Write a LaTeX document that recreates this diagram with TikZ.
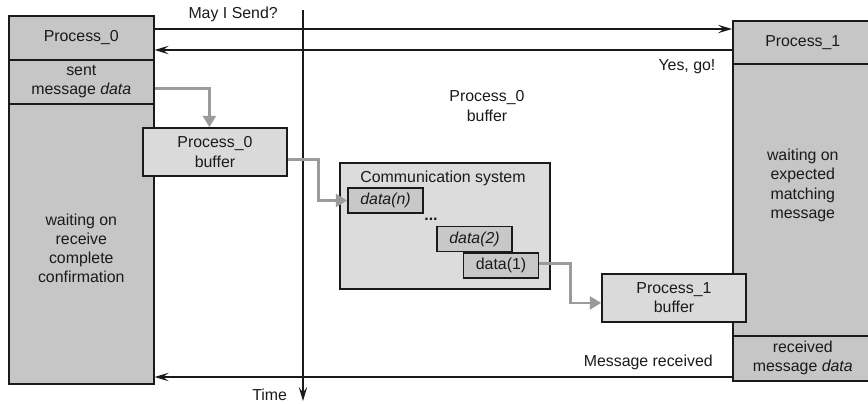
\documentclass[tikz,border=0pt]{standalone}
\usepackage{fontspec}
\setmainfont{Liberation Sans}
\usetikzlibrary{arrows.meta,positioning,calc}
\definecolor{ink}{HTML}{1A1A1A}
\definecolor{lanefill}{HTML}{C6C6C6}
\definecolor{buffill}{HTML}{DADADA}
\definecolor{sysfill}{HTML}{DCDCDC}
\definecolor{pktfill}{HTML}{C8C8C8}
\definecolor{flowgray}{HTML}{9B9B9B}
\tikzset{
  every node/.style={font=\fontsize{11.3}{13.6}\selectfont, text=ink},
  lane/.style={draw=ink, fill=lanefill, line width=1.1pt, align=center, anchor=north west, inner sep=0pt},
  buffer/.style={draw=ink, fill=buffill, line width=1.1pt, align=center, inner sep=0pt, minimum width=3.6cm, minimum height=1.2cm},
  system/.style={draw=ink, fill=sysfill, line width=1.1pt, inner sep=0pt, minimum width=5.25cm, minimum height=3.15cm},
  packet/.style={draw=ink, fill=pktfill, line width=1.1pt, inner sep=0pt, minimum width=1.875cm, minimum height=0.625cm},
  msg/.style={-{Stealth[length=10pt, width=6pt, inset=4pt]}, draw=ink, line width=1pt},
  flow/.style={-{Triangle[length=8pt, width=9pt]}, draw=flowgray, line width=2pt},
  note/.style={align=center},
}

\begin{document}
\begin{tikzpicture}[x=0.025cm, y=-0.025cm]
  \useasboundingbox (0,0) rectangle (868,403);

  % message heights and time axis ends
  \coordinate (ask)   at (0,29);
  \coordinate (reply) at (0,50);
  \coordinate (done)  at (0,377);
  \coordinate (ttop)  at (303,10);
  \coordinate (tbot)  at (303,401);

  % --- sender lane ---------------------------------------------------------
  \node[lane, minimum width=3.625cm, minimum height=1.1cm] (p0hdr)  at (8,15)  {Process\_0};
  \node[lane, minimum width=3.625cm, minimum height=1.1cm] (p0sent) at (8,59)  {sent\\message \textit{data}};
  \node[lane, minimum width=3.625cm, minimum height=7cm,
        label={[note, yshift=-0.12cm]center:waiting on\\receive\\complete\\confirmation}] (p0wait) at (8,103) {};

  % --- receiver lane -------------------------------------------------------
  \node[lane, minimum width=3.5cm, minimum height=1.075cm] (p1hdr)  at (732,20)  {Process\_1};
  \node[lane, minimum width=3.5cm, minimum height=6.8cm,
        label={[note, yshift=0.36cm]center:waiting on\\expected\\matching\\message}] (p1wait) at (732,63) {};
  \node[lane, minimum width=3.5cm, minimum height=1.125cm] (p1recv) at (732,335) {received\\message \textit{data}};

  % --- buffers and communication system ------------------------------------
  \node[buffer] (p0buf) at (215,152) {Process\_0\\buffer};
  \node[buffer] (p1buf) at (674,298) {Process\_1\\buffer};
  \node[note] (p0bufnote) at (487,106) {Process\_0\\buffer};

  \node[system] (comm) at (445,226) {};
  \node (commtitle) at (443,178) {Communication system};
  \node[packet] (dn) at (385.5,200.5) {\textit{data(n)}};
  \node[font=\fontsize{11.3}{13.6}\selectfont\bfseries] (dots) at (431,219) {...};
  \node[packet] (d2) at (474.5,239) {\textit{data(2)}};
  \node[packet] (d1) at (501,265.5) {data(1)};

  % time axis
  \draw[msg] (ttop) -- (tbot);
  \node[anchor=east] (time) at (292,395) {Time};

  % handshake and completion messages
  \draw[msg] (p0hdr.east |- ask) -- (p1hdr.west |- ask)
    node[pos=0.136, above=1pt] (asklbl) {May I Send?};
  \draw[msg] (p1hdr.west |- reply) -- (p0hdr.east |- reply)
    node[pos=0.078, below=3pt] (replylbl) {Yes, go!};
  \draw[msg] (p1recv.west |- done) -- (p0wait.east |- done)
    node[pos=0.145, above=1pt] (donelbl) {Message received};

  % data path
  \draw[flow] ([yshift=-5pt]p0sent.east) -| ([xshift=-4pt]p0buf.north);
  \draw[flow] ([yshift=-5.5pt]p0buf.east) -- ++(31,0) |- (dn.west);
  \draw[flow] ([yshift=1.5pt]d1.east) -- ++(31,0) |- ([yshift=-3.5pt]p1buf.west);
\end{tikzpicture}
\end{document}
